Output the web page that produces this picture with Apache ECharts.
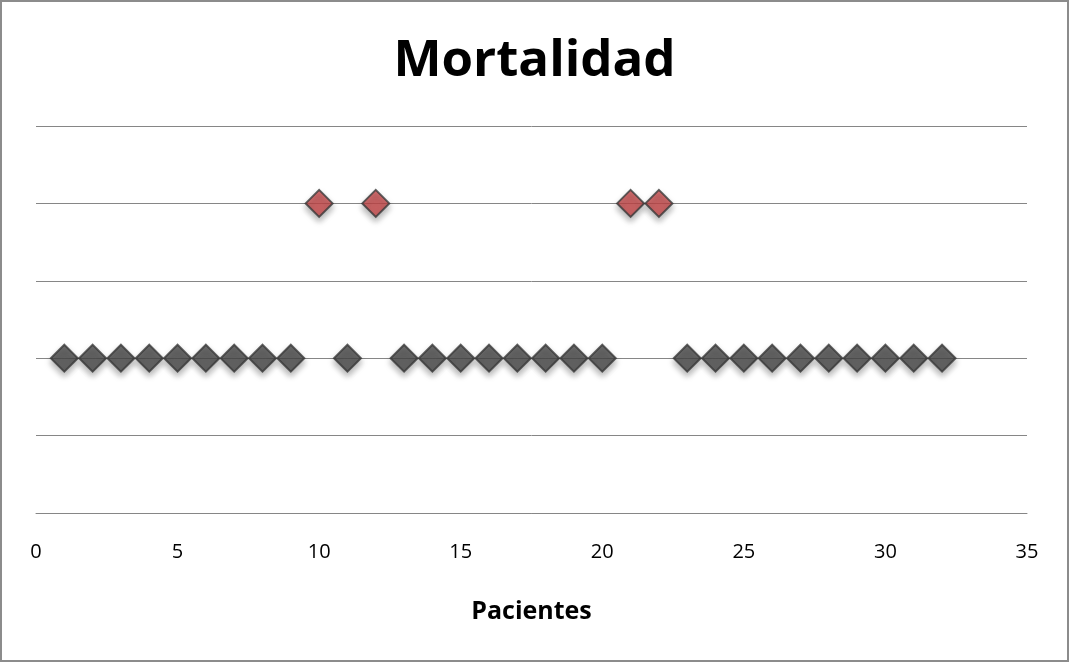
<!DOCTYPE html>
<html>
<head>
<meta charset="utf-8">
<script src="https://cdn.jsdelivr.net/npm/echarts@6/dist/echarts.min.js"></script>
<style>
  html, body { margin: 0; padding: 0; background: #fff; }
  #frame { position: absolute; left: 0; top: 0; width: 1065px; height: 658px; border: 2px solid #8c8c8c; }
  #chart { position: absolute; left: -2px; top: -2px; width: 1069px; height: 662px; }
</style>
</head>
<body>
<div id="frame"><div id="chart"></div></div>
<script>
// Patients who survived (status 1) and who died (status 2)
const vivosPacientes = [1, 2, 3, 4, 5, 6, 7, 8, 9, 11, 13, 14, 15, 16, 17, 18, 19, 20, 23, 24, 25, 26, 27, 28, 29, 30, 31, 32];
const vivosEstado = [1, 1, 1, 1, 1, 1, 1, 1, 1, 1, 1, 1, 1, 1, 1, 1, 1, 1, 1, 1, 1, 1, 1, 1, 1, 1, 1, 1];
const fallecidosPacientes = [10, 12, 21, 22];
const fallecidosEstado = [2, 2, 2, 2];
const xTicks = [0, 5, 10, 15, 20, 25, 30, 35];

const pairs = (xs, ys) => xs.map((x, i) => [x, ys[i]]);

const chart = echarts.init(document.getElementById('chart'));
const markerStyle = (fill) => ({
  color: fill,
  borderColor: '#3a3a3a',
  borderWidth: 2,
  shadowBlur: 6,
  shadowOffsetY: 4,
  shadowColor: 'rgba(0,0,0,0.35)'
});

chart.setOption({
  animation: false,
  title: {
    text: 'Mortalidad',
    left: 'center',
    top: 31,
    textStyle: { fontFamily: 'Open Sans', fontWeight: 'bold', fontSize: 51, color: '#000' }
  },
  grid: { left: 36, right: 42, top: 126, bottom: 149 },
  xAxis: {
    type: 'value',
    min: xTicks[0],
    max: xTicks[xTicks.length - 1],
    interval: 5,
    name: 'Pacientes',
    nameLocation: 'middle',
    nameGap: 86,
    nameTextStyle: { fontFamily: 'Open Sans', fontWeight: 'bold', fontSize: 25, color: '#000' },
    axisLine: { show: true, lineStyle: { color: '#868686', width: 1 } },
    axisTick: { show: false },
    splitLine: { show: false },
    axisLabel: { margin: 29, fontFamily: 'Open Sans', fontSize: 20, color: '#000' }
  },
  yAxis: {
    type: 'value',
    min: 0,
    max: 2.5,
    interval: 0.5,
    axisLine: { show: false },
    axisTick: { show: false },
    axisLabel: { show: false },
    splitLine: { show: true, lineStyle: { color: '#868686', width: 1 } }
  },
  series: [
    {
      name: 'Vivos',
      type: 'scatter',
      symbol: 'diamond',
      symbolSize: 27,
      data: pairs(vivosPacientes, vivosEstado),
      itemStyle: markerStyle('#4a4a4a')
    },
    {
      name: 'Fallecidos',
      type: 'scatter',
      symbol: 'diamond',
      symbolSize: 27,
      data: pairs(fallecidosPacientes, fallecidosEstado),
      itemStyle: markerStyle('#c8494a')
    }
  ]
});
</script>
</body>
</html>
